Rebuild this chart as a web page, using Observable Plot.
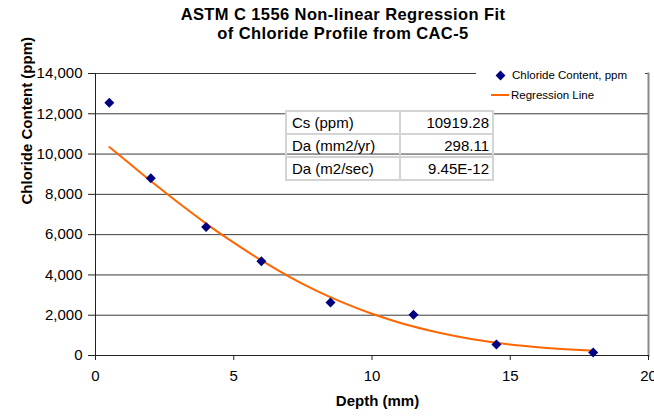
<!DOCTYPE html>
<html><head><meta charset="utf-8">
<script src="https://cdn.jsdelivr.net/npm/d3@7"></script>
<script src="https://cdn.jsdelivr.net/npm/@observablehq/plot@0.6"></script>
<style>
body{margin:0;background:#fff;font-family:"Liberation Sans",Arial,sans-serif;color:#000;}
#wrap{position:relative;width:654px;height:416px;overflow:hidden;background:#fff;}
#chart{position:absolute;left:0;top:0;}
#title{position:absolute;left:0;top:5px;width:686px;text-align:center;font-weight:bold;font-size:16.5px;line-height:19px;letter-spacing:0.4px;}
#legend{position:absolute;left:476px;top:62px;width:169px;height:44px;background:#fff;font-size:11.5px;}
#legend .t{position:absolute;line-height:14px;white-space:nowrap;}
#legend .dm{position:absolute;width:7px;height:7px;background:#000080;transform:rotate(45deg);}
#legend .ln{position:absolute;height:2px;background:#FF6600;}
#stats{position:absolute;left:285px;top:110px;border-collapse:collapse;table-layout:fixed;font-size:15px;}
#stats td{border:2px solid #d4d4d4;height:21px;padding:0;line-height:21px;white-space:nowrap;}
#stats td.k{width:107px;padding-left:5px;}
#stats td.v{width:88px;padding-right:3px;text-align:right;}
#stats tr.first td{background:#fff;}
</style></head>
<body>
<div id="wrap">
  <div id="chart"></div>
  <div id="title"></div>
  <div id="legend"></div>
  <table id="stats"></table>
</div>
<script>
const titleLines = ["ASTM C 1556 Non-linear Regression Fit", "of Chloride Profile from CAC-5"];
const xLabel = "Depth (mm)";
const yLabel = "Chloride Content (ppm)";
const xTicks = [0, 5, 10, 15, 20];
const yTicks = [0, 2000, 4000, 6000, 8000, 10000, 12000, 14000];

// measured chloride content
const depth = [0.5, 2, 4, 6, 8.5, 11.5, 14.5, 18];
const chloride = [12550, 8800, 6380, 4680, 2630, 2020, 550, 150];

// regression line
const fitDepth = [0.5, 1, 2, 3, 4, 5, 6, 7, 8, 9, 10, 11, 12, 13, 14, 15, 16, 17, 18];
const fitChloride = [10350, 9790, 8660, 7580, 6550, 5600, 4720, 3920, 3210, 2600, 2070, 1630, 1270, 970, 730, 545, 410, 310, 235];

const seriesNames = ["Chloride Content, ppm", "Regression Line"];
const statLabels = ["Cs (ppm)", "Da (mm2/yr)", "Da (m2/sec)"];
const statValues = ["10919.28", "298.11", "9.45E-12"];

const points = depth.map((d, i) => ({depth: d, value: chloride[i]}));
const fit = fitDepth.map((d, i) => ({depth: d, value: fitChloride[i]}));

const chart = Plot.plot({
  width: 654, height: 416,
  marginLeft: 95, marginRight: 6, marginTop: 73, marginBottom: 61,
  style: {fontFamily: "Liberation Sans, Arial, sans-serif", fontSize: "15px", color: "#000", background: "transparent"},
  x: {domain: [0, 20]},
  y: {domain: [0, 14000]},
  marks: [
    Plot.ruleY(yTicks.filter(d => d > 0), {stroke: "#3c3c3c", strokeWidth: 1}),
    Plot.frame({anchor: "right", stroke: "#8a8a8a", strokeWidth: 2}),
    Plot.axisY({ticks: yTicks, tickFormat: d3.format(","), tickSize: 7, tickPadding: 6, label: null, stroke: "#222"}),
    Plot.axisX({ticks: xTicks, tickSize: 5, tickPadding: 10, label: null, stroke: "#222"}),
    Plot.ruleX([0], {stroke: "#222"}),
    Plot.ruleY([0], {stroke: "#222"}),
    Plot.line(fit, {x: "depth", y: "value", stroke: "#FF6600", strokeWidth: 2, curve: "monotone-x"}),
    Plot.dot(points, {x: "depth", y: "value", symbol: "diamond2", r: 4.5, fill: "#000080"}),
    Plot.text([yLabel], {text: d => d, frameAnchor: "left", dx: -68, dy: -10, rotate: -90, fontWeight: "bold", fontSize: 15}),
    Plot.text([xLabel], {text: d => d, frameAnchor: "bottom", dx: 5.5, dy: 50, fontWeight: "bold", fontSize: 15})
  ]
});
document.getElementById("chart").appendChild(chart);

document.getElementById("title").innerHTML = titleLines.join("<br>");

const lg = document.getElementById("legend");
lg.innerHTML =
  `<div class="dm" style="left:21px;top:9.5px"></div>` +
  `<div class="t" style="left:36px;top:6px">${seriesNames[0]}</div>` +
  `<div class="ln" style="left:15px;top:32px;width:18px"></div>` +
  `<div class="t" style="left:35px;top:26px">${seriesNames[1]}</div>`;

const tb = document.getElementById("stats");
tb.innerHTML = statLabels.map((l, i) =>
  `<tr class="${i === 0 ? "first" : ""}"><td class="k">${l}</td><td class="v">${statValues[i]}</td></tr>`).join("");
</script>
</body></html>
